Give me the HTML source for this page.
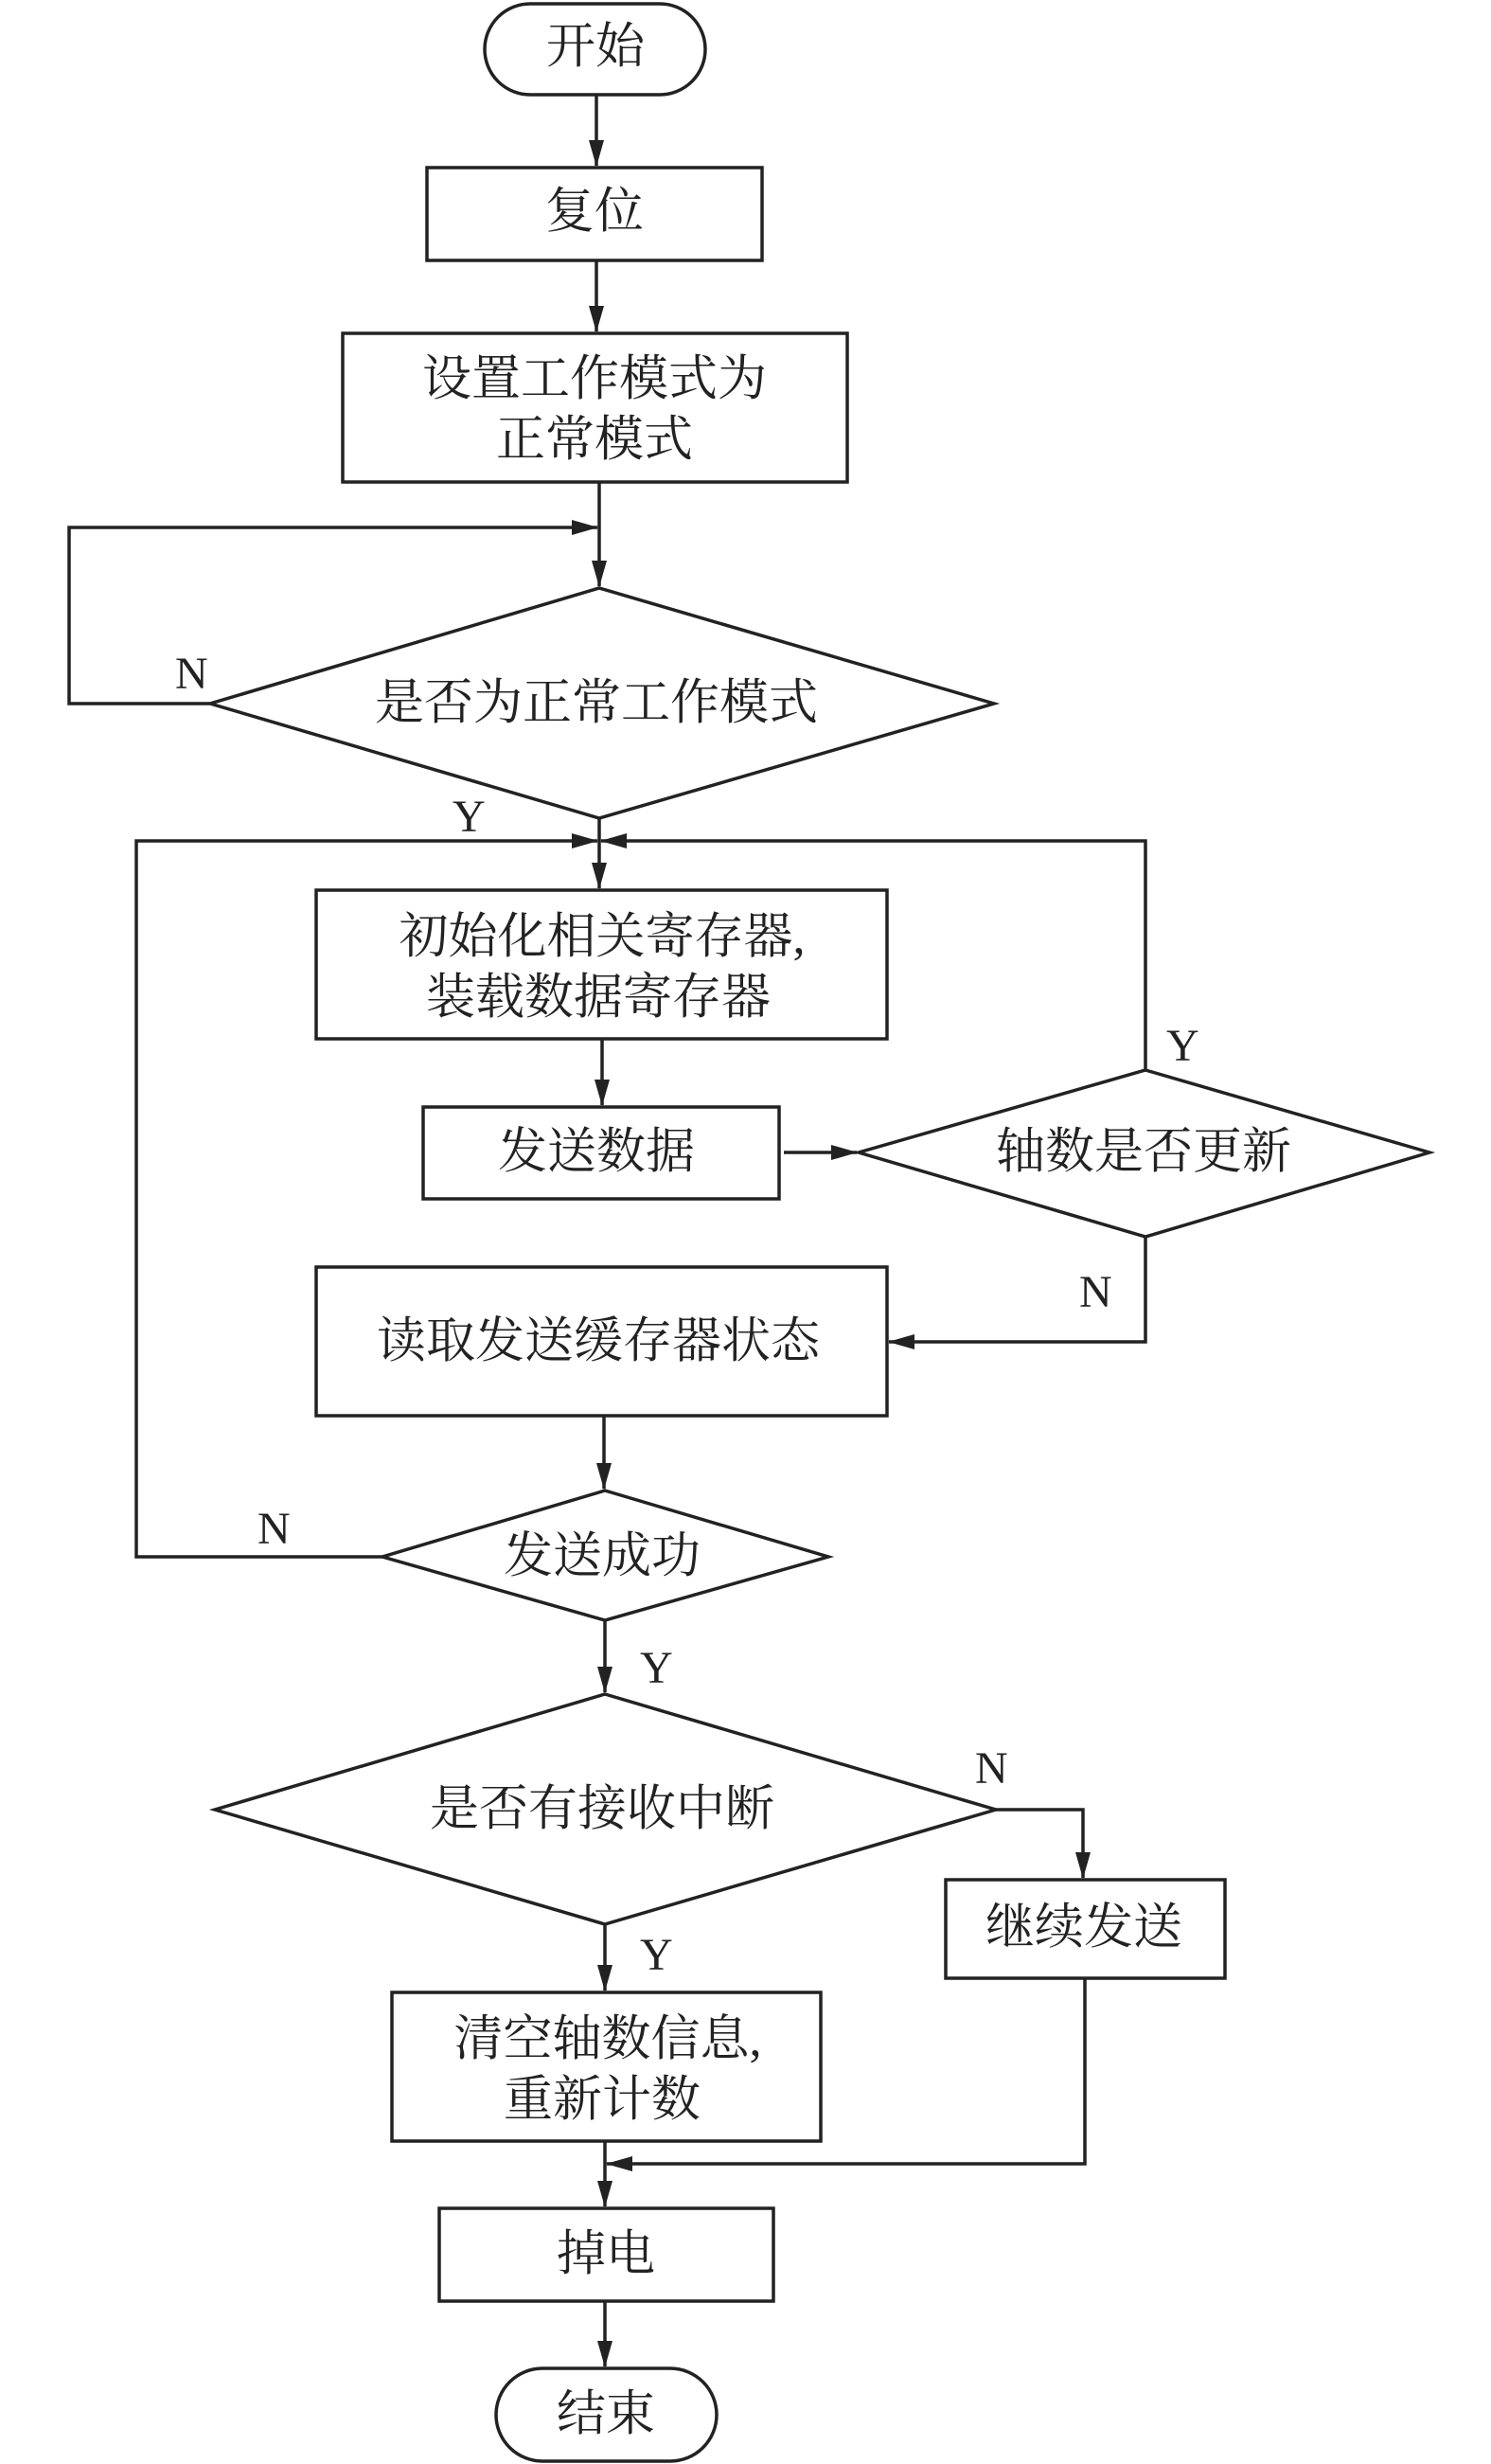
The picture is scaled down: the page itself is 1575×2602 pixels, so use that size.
<!DOCTYPE html>
<html><head><meta charset="utf-8"><style>
html,body{margin:0;padding:0;background:#fff;}
svg{display:block;}
text{font-family:"Liberation Serif","Noto Serif CJK SC",serif;fill:#222;}
.c{font-size:52px;text-anchor:middle;dominant-baseline:central;}
.l{font-size:48px;}
</style></head><body>
<svg width="1575" height="2602" viewBox="0 0 1575 2602" xmlns="http://www.w3.org/2000/svg">
<defs>
<marker id="a" markerWidth="28" markerHeight="18" refX="27" refY="9" orient="auto" markerUnits="userSpaceOnUse">
<path d="M0,1 L28,9 L0,17 Z" fill="#222"/></marker>
</defs>
<g fill="none" stroke="#222" stroke-width="3.5">
<!-- start -->
<rect x="512" y="4" width="233" height="96" rx="48" ry="48"/>
<line x1="630" y1="100" x2="630" y2="175" marker-end="url(#a)"/>
<rect x="451" y="177" width="354" height="98"/>
<line x1="630" y1="275" x2="630" y2="350" marker-end="url(#a)"/>
<rect x="362" y="352" width="533" height="157"/>
<line x1="633" y1="509" x2="633" y2="619" marker-end="url(#a)"/>
<!-- loop N -->
<polyline points="222,743 73,743 73,557 631,557" marker-end="url(#a)"/>
<polygon points="633,621 1050,743 633,864 222,743"/>
<line x1="633" y1="864" x2="633" y2="938" marker-end="url(#a)"/>
<!-- left loop from 发送成功 -->
<polyline points="404,1644 144,1644 144,888 631,888" marker-end="url(#a)"/>
<polyline points="1210,1130 1210,888 635,888" marker-end="url(#a)"/>
<rect x="334" y="940" width="603" height="157"/>
<line x1="636" y1="1097" x2="636" y2="1167" marker-end="url(#a)"/>
<rect x="447" y="1169" width="376" height="97"/>
<line x1="828" y1="1217" x2="905" y2="1217" marker-end="url(#a)"/>
<polygon points="1210,1130 1510,1217 1210,1306 907,1217"/>
<polyline points="1210,1306 1210,1417 939,1417" marker-end="url(#a)"/>
<rect x="334" y="1338" width="603" height="157"/>
<line x1="638" y1="1495" x2="638" y2="1572" marker-end="url(#a)"/>
<polygon points="639,1574 875,1644 639,1711 404,1644"/>
<line x1="639" y1="1711" x2="639" y2="1787" marker-end="url(#a)"/>
<polygon points="639,1789 1052,1911 639,2032 227,1911"/>
<polyline points="1052,1911 1144,1911 1144,1983" marker-end="url(#a)"/>
<rect x="999" y="1985" width="295" height="104"/>
<line x1="639" y1="2032" x2="639" y2="2102" marker-end="url(#a)"/>
<rect x="414" y="2104" width="453" height="157"/>
<polyline points="1146,2089 1146,2285 641,2285" marker-end="url(#a)"/>
<line x1="639" y1="2261" x2="639" y2="2330" marker-end="url(#a)"/>
<rect x="464" y="2332" width="353" height="98"/>
<line x1="639" y1="2430" x2="639" y2="2499" marker-end="url(#a)"/>
<rect x="524" y="2501" width="233" height="98" rx="49" ry="49"/>
</g>
<text class="c" x="629" y="50">开始</text>
<text class="c" x="628" y="224">复位</text>
<text class="c" x="628" y="401">设置工作模式为</text>
<text class="c" x="628" y="465">正常模式</text>
<text class="c" x="630" y="743">是否为正常工作模式</text>
<text class="c" x="636" y="990">初始化相关寄存器,</text>
<text class="c" x="632" y="1054">装载数据寄存器</text>
<text class="c" x="630" y="1217">发送数据</text>
<text class="c" x="1208" y="1217">轴数是否更新</text>
<text class="c" x="632" y="1417">读取发送缓存器状态</text>
<text class="c" x="636" y="1644">发送成功</text>
<text class="c" x="636" y="1911">是否有接收中断</text>
<text class="c" x="1145" y="2036">继续发送</text>
<text class="c" x="642" y="2154">清空轴数信息,</text>
<text class="c" x="636" y="2218">重新计数</text>
<text class="c" x="640" y="2381">掉电</text>
<text class="c" x="640" y="2550">结束</text>
<text class="l" x="185" y="727">N</text>
<text class="l" x="478" y="878">Y</text>
<text class="l" x="1232" y="1120">Y</text>
<text class="l" x="1140" y="1380">N</text>
<text class="l" x="272" y="1630">N</text>
<text class="l" x="676" y="1777">Y</text>
<text class="l" x="1030" y="1883">N</text>
<text class="l" x="676" y="2080">Y</text>
</svg>
</body></html>
